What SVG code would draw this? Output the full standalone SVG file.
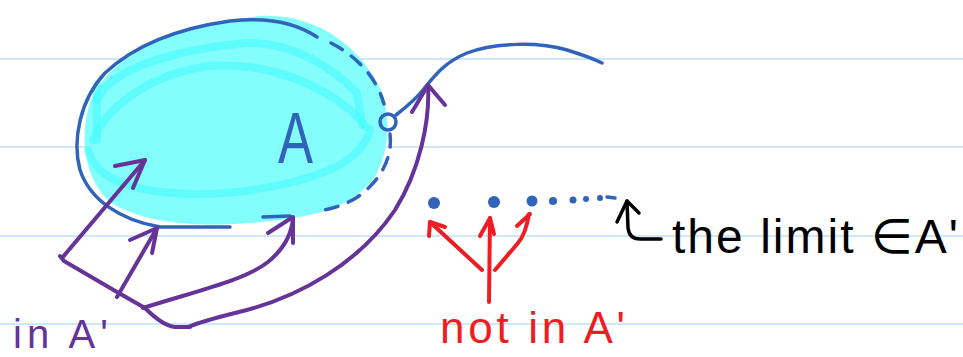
<svg xmlns="http://www.w3.org/2000/svg" width="963" height="357" viewBox="0 0 963 357">
  <style>
    .rule { stroke: #cfe8f8; stroke-width: 2; }
    .blue { fill: none; stroke: #2f64ba; stroke-width: 3.5; stroke-linecap: round; stroke-linejoin: round; }
    .dash { stroke-dasharray: 13 11; }
    .band { fill: none; stroke: #3ffbfb; stroke-width: 8; stroke-linecap: round; opacity: 0.55; }
    .purple { fill: none; stroke: #663399; stroke-width: 4; stroke-linecap: round; stroke-linejoin: round; }
    .red { fill: none; stroke: #ee1d24; stroke-width: 4; stroke-linecap: round; stroke-linejoin: round; }
    .black { fill: none; stroke: #000; stroke-width: 3.5; stroke-linecap: round; stroke-linejoin: round; }
    .dot { fill: #2f64ba; }
    .hand { font-family: "Liberation Sans", "DejaVu Sans", sans-serif; }
  </style>
  <rect width="963" height="357" fill="#fff"/>
  <g id="ruled-lines">
    <line class="rule" x1="0" y1="59" x2="963" y2="59"/>
    <line class="rule" x1="0" y1="147" x2="963" y2="147"/>
    <line class="rule" x1="0" y1="236" x2="963" y2="236"/>
    <line class="rule" x1="0" y1="324" x2="963" y2="324"/>
  </g>
  <g id="set-A">
    <path d="M88,110 C100,60 170,25 260,16 C320,13 362,50 381,90 C391,120 389,150 376,175 C356,205 320,215 280,220 C230,226 160,230 115,205 C85,185 80,140 88,110 Z" fill="#84fdfd"/>
    <path class="band" d="M97,100 C110,70 170,50 247,43 C290,42 330,65 357,93 L362,125"/>
    <path class="band" d="M93,140 C110,100 160,72 210,66 C270,62 320,85 350,110 L367,127"/>
    <path class="band" d="M88,150 C95,175 120,188 170,193 C230,198 300,185 340,165 C360,152 368,140 370,130"/>
    <path class="band" d="M97,85 L97,140"/>
    <path class="blue" d="M230,227 L160,227 C120,220 90,200 80,170 C72,140 80,100 105,73 C135,45 180,28 230,21 C265,17 295,22 317,37"/>
    <path class="blue dash" d="M331,43 C356,56 376,76 384,104"/>
    <path class="blue dash" d="M390,134 C393,157 381,181 356,198 C341,207 326,210 317,211"/>
    <path class="blue" d="M263,217 L290,216"/>
    <text class="hand" x="278" y="163" font-size="72" fill="#2f64ba" textLength="35" lengthAdjust="spacingAndGlyphs">A</text>
  </g>
  <g id="limit-curve">
    <circle class="blue" cx="388" cy="122" r="8"/>
    <path class="blue" d="M396,115 C405,108 415,100 423,90 C435,75 445,62 467,53 C495,42 540,42 567,50 C580,54 592,58 602,63"/>
  </g>
  <g id="sequence">
    <circle class="dot" cx="434" cy="203" r="6"/>
    <circle class="dot" cx="494" cy="202" r="6"/>
    <circle class="dot" cx="532" cy="201" r="5.5"/>
    <circle class="dot" cx="553" cy="201" r="4"/>
    <circle class="dot" cx="573" cy="200" r="3.5"/>
    <circle class="dot" cx="586" cy="199" r="3"/>
    <circle class="dot" cx="600" cy="198" r="3"/>
    <path class="blue" d="M607,197 L615,198" stroke-width="3"/>
  </g>
  <g id="connectors">
    <path class="purple" d="M62,258 L145,160"/>
    <path class="purple" d="M115,166 L145,160 L133,188"/>
    <path class="purple" d="M60,256 L64,261 L117,292 L145,308 C155,318 165,326 175,327 L190,327"/>
    <path class="purple" d="M117,297 L157,228"/>
    <path class="purple" d="M130,240 L157,228 L152,253"/>
    <path class="purple" d="M143,308 C200,290 245,280 268,262 C285,248 292,232 293,218"/>
    <path class="purple" d="M268,233 L293,217 L293,243"/>
    <path class="purple" stroke-width="3.5" d="M188,327 C200,322 215,318 235,313 C300,298 360,262 395,210 C420,170 430,120 428,86"/>
    <path class="purple" d="M412,112 L428,85 L445,105"/>
    <path class="red" d="M489,302 L490,218"/>
    <path class="red" d="M480,236 L490,218 L494,234"/>
    <path class="red" d="M482,270 L430,222"/>
    <path class="red" d="M429,236 L430,222 L445,227"/>
    <path class="red" d="M495,270 L518,243 C524,236 527,226 529,214"/>
    <path class="red" d="M517,226 L530,214"/>
    <path class="black" d="M627,201 L628,228 C629,236 633,239 640,239 L661,239"/>
    <path class="black" d="M617,222 L627,201 L639,213"/>
  </g>
  <g id="labels">
    <text class="hand" x="13" y="348" font-size="40" fill="#663399" textLength="95" lengthAdjust="spacing">in A'</text>
    <text class="hand" x="440" y="343" font-size="44" fill="#ee1d24" textLength="185" lengthAdjust="spacing">not in A'</text>
    <text class="hand" x="672" y="253" font-size="48" fill="#000" textLength="286" lengthAdjust="spacing">the limit ∈A'</text>
  </g>
</svg>
